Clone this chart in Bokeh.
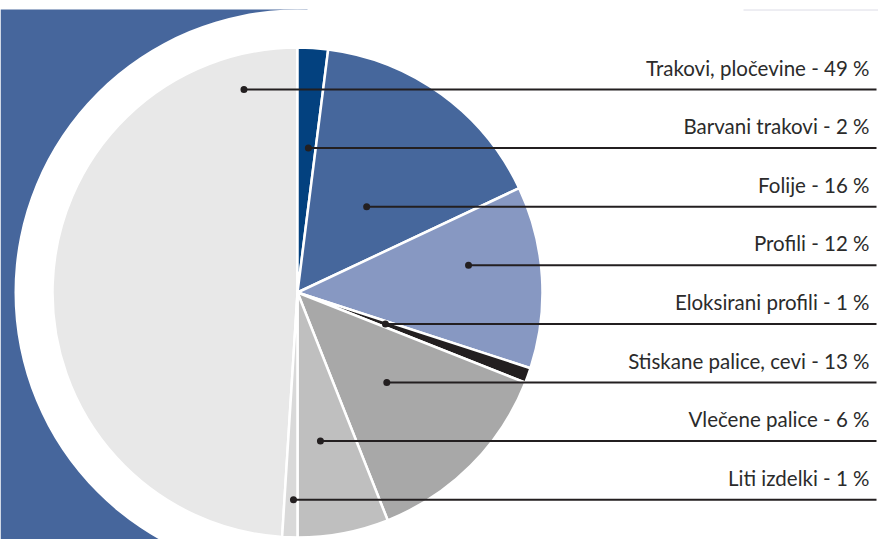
import numpy as np
from bokeh.plotting import figure
from bokeh.models import ColumnDataSource, Range1d
from bokeh.core.properties import value
from bokeh.embed import file_html
from bokeh.resources import INLINE

# ---- data ----
categories = ["Trakovi, pločevine", "Barvani trakovi", "Folije", "Profili",
              "Eloksirani profili", "Stiskane palice, cevi", "Vlečene palice", "Liti izdelki"]
shares = [49, 2, 16, 12, 1, 13, 6, 1]
colors = ["#e8e8e8", "#03417f", "#46679c", "#8798c2", "#231f20", "#a8a8a8", "#bfbfbf", "#d9d9d9"]
# order in which slices are drawn clockwise from 12 o'clock
slice_order = [1, 2, 3, 4, 5, 6, 7, 0]
# where along each row's chord (inside its slice) the leader dot sits
anchor_frac = [0.61, 0.6, 0.34, 0.61, 0.5, 0.28, 0.39, 0.69]

# ---- layout ----
W, H = 878, 539
cx, cy = 297, 247
R = 245
R_halo = 283
row_top, row_step = 450, 58.6
line_end = 876
label_x = 869
ink = "#231f20"
bg_blue = "#46669c"

p = figure(width=W, height=H, x_range=Range1d(0, W), y_range=Range1d(0, H),
           output_backend="svg", toolbar_location=None, min_border=0)
p.axis.visible = False
p.grid.visible = False
p.outline_line_color = None
p.background_fill_color = "white"
p.border_fill_color = "white"

# background panel and white halo
p.quad(left=0, right=307, bottom=0, top=H - 9, fill_color=bg_blue, line_color=None)
p.segment(x0=743, y0=H - 9.5, x1=W, y1=H - 9.5, line_color="#dcdce6", line_width=1)
p.circle(x=cx, y=cy, radius=R_halo, fill_color="white", line_color=None)

# slices
total = float(sum(shares))
start_frac = {}
acc = 0.0
for i in slice_order:
    start_frac[i] = acc
    acc += shares[i] / total
a0 = np.array([start_frac[i] for i in range(len(shares))])
a1 = a0 + np.array(shares) / total
src = ColumnDataSource(dict(
    start=np.pi / 2 - 2 * np.pi * a0,
    end=np.pi / 2 - 2 * np.pi * a1,
    color=colors,
))
p.wedge(x=cx, y=cy, radius=R, start_angle="start", end_angle="end", direction="clock",
        fill_color="color", line_color="white", line_width=2.5, source=src)

# leader dots / lines / labels
xs = np.linspace(cx - R, cx + R, 4001)
dot_x, rows, texts = [], [], []
for i, name in enumerate(categories):
    ry = row_top - i * row_step
    dx = xs - cx
    dy = ry - cy
    inside = dx ** 2 + dy ** 2 <= R ** 2
    th = np.mod(np.arctan2(dx, dy), 2 * np.pi) / (2 * np.pi)
    sel = inside & (th >= a0[i]) & (th <= a1[i])
    xin = xs[sel]
    x_lo, x_hi = xin.min(), xin.max()
    dot_x.append(x_lo + anchor_frac[i] * (x_hi - x_lo))
    rows.append(ry)
    texts.append(f"{name} - {shares[i]} %")

lsrc = ColumnDataSource(dict(x=dot_x, y=rows, t=texts,
                             ty=[r + 22 for r in rows], tx=[label_x] * len(rows),
                             xe=[line_end] * len(rows)))
p.segment(x0="x", y0="y", x1="xe", y1="y", line_color=ink, line_width=2, source=lsrc)
p.scatter(x="x", y="y", size=7, fill_color=ink, line_color=None, source=lsrc)
p.text(x="tx", y="ty", text="t", text_align="right", text_baseline="alphabetic",
       text_font=value("Lato"), text_font_size="20.5px", text_color="#2b2b2b", source=lsrc)

open("out.html", "w").write(file_html(p, INLINE))
